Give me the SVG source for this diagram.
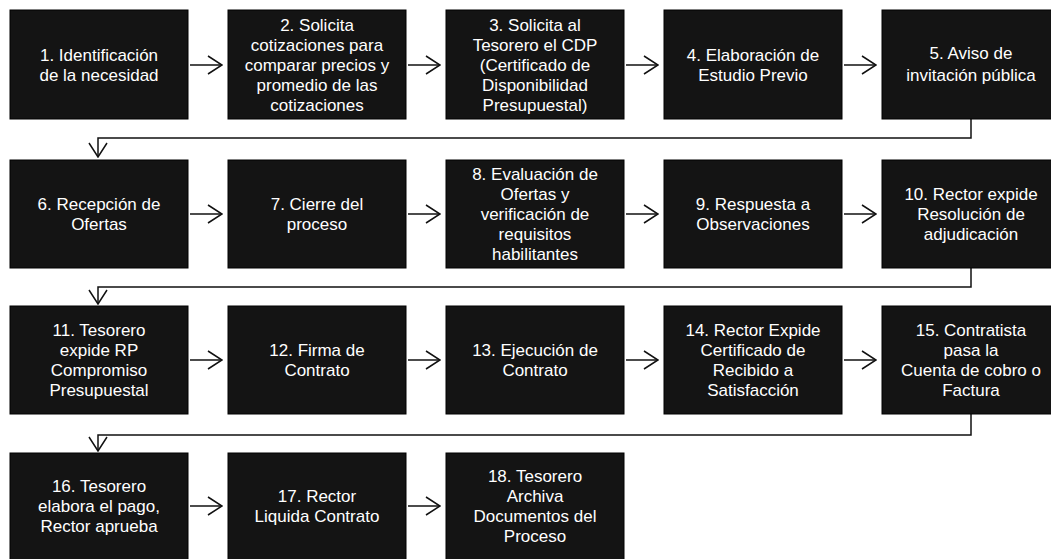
<svg xmlns="http://www.w3.org/2000/svg" width="1051" height="559" viewBox="0 0 1051 559">
<style>
.box{fill:#141414;stroke:#000;stroke-width:1}
.t{font-family:"Liberation Sans",Arial,sans-serif;font-size:17px;fill:#ffffff;text-anchor:middle;dominant-baseline:central}
.c{fill:none;stroke:#111;stroke-width:1.5}
</style>
<defs>
<marker id="ah" viewBox="0 0 16 20" refX="15" refY="10" markerWidth="16" markerHeight="20" markerUnits="userSpaceOnUse" orient="auto">
<path d="M1,1 L15,10 L1,19" fill="none" stroke="#111" stroke-width="1.5"/>
</marker>
</defs>
<rect width="1051" height="559" fill="#fff"/>
<g id="connectors">
<line class="c" x1="190" y1="65" x2="222" y2="65" marker-end="url(#ah)"/>
<line class="c" x1="408" y1="65" x2="440" y2="65" marker-end="url(#ah)"/>
<line class="c" x1="626" y1="65" x2="658" y2="65" marker-end="url(#ah)"/>
<line class="c" x1="844" y1="65" x2="876" y2="65" marker-end="url(#ah)"/>
<polyline class="c" points="971,119 971,138 98,138 98,157" marker-end="url(#ah)"/>
<line class="c" x1="190" y1="214" x2="222" y2="214" marker-end="url(#ah)"/>
<line class="c" x1="408" y1="214" x2="440" y2="214" marker-end="url(#ah)"/>
<line class="c" x1="626" y1="214" x2="658" y2="214" marker-end="url(#ah)"/>
<line class="c" x1="844" y1="214" x2="876" y2="214" marker-end="url(#ah)"/>
<polyline class="c" points="971,268 971,287 98,287 98,304" marker-end="url(#ah)"/>
<line class="c" x1="190" y1="360" x2="222" y2="360" marker-end="url(#ah)"/>
<line class="c" x1="408" y1="360" x2="440" y2="360" marker-end="url(#ah)"/>
<line class="c" x1="626" y1="360" x2="658" y2="360" marker-end="url(#ah)"/>
<line class="c" x1="844" y1="360" x2="876" y2="360" marker-end="url(#ah)"/>
<polyline class="c" points="971,414 971,435 98,435 98,451" marker-end="url(#ah)"/>
<line class="c" x1="190" y1="506" x2="222" y2="506" marker-end="url(#ah)"/>
<line class="c" x1="408" y1="506" x2="440" y2="506" marker-end="url(#ah)"/>
</g>
<g id="n1"><rect class="box" x="10" y="10" width="178" height="109"/><text class="t" x="99"><tspan x="99" y="55">1. Identificación</tspan><tspan x="99" y="75">de la necesidad</tspan></text></g>
<g id="n2"><rect class="box" x="228" y="10" width="178" height="109"/><text class="t"><tspan x="317" y="25">2. Solicita</tspan><tspan x="317" y="45">cotizaciones para</tspan><tspan x="317" y="65">comparar precios y</tspan><tspan x="317" y="85">promedio de las</tspan><tspan x="317" y="105">cotizaciones</tspan></text></g>
<g id="n3"><rect class="box" x="446" y="10" width="178" height="109"/><text class="t"><tspan x="535" y="25">3. Solicita al</tspan><tspan x="535" y="45">Tesorero el CDP</tspan><tspan x="535" y="65">(Certificado de</tspan><tspan x="535" y="85">Disponibilidad</tspan><tspan x="535" y="105">Presupuestal)</tspan></text></g>
<g id="n4"><rect class="box" x="664" y="10" width="178" height="109"/><text class="t"><tspan x="753" y="55">4. Elaboración de</tspan><tspan x="753" y="75">Estudio Previo</tspan></text></g>
<g id="n5"><rect class="box" x="882" y="10" width="178" height="109"/><text class="t"><tspan x="971" y="53">5. Aviso de</tspan><tspan x="971" y="75">invitación pública</tspan></text></g>
<g id="n6"><rect class="box" x="10" y="160" width="178" height="108"/><text class="t"><tspan x="99" y="204">6. Recepción de</tspan><tspan x="99" y="224">Ofertas</tspan></text></g>
<g id="n7"><rect class="box" x="228" y="160" width="178" height="108"/><text class="t"><tspan x="317" y="204">7. Cierre del</tspan><tspan x="317" y="224">proceso</tspan></text></g>
<g id="n8"><rect class="box" x="446" y="160" width="178" height="108"/><text class="t"><tspan x="535" y="174">8. Evaluación de</tspan><tspan x="535" y="194">Ofertas y</tspan><tspan x="535" y="214">verificación de</tspan><tspan x="535" y="234">requisitos</tspan><tspan x="535" y="254">habilitantes</tspan></text></g>
<g id="n9"><rect class="box" x="664" y="160" width="178" height="108"/><text class="t"><tspan x="753" y="204">9. Respuesta a</tspan><tspan x="753" y="224">Observaciones</tspan></text></g>
<g id="n10"><rect class="box" x="882" y="160" width="178" height="108"/><text class="t"><tspan x="971" y="194">10. Rector expide</tspan><tspan x="971" y="214">Resolución de</tspan><tspan x="971" y="234">adjudicación</tspan></text></g>
<g id="n11"><rect class="box" x="10" y="306" width="178" height="108"/><text class="t"><tspan x="99" y="330">11. Tesorero</tspan><tspan x="99" y="350">expide RP</tspan><tspan x="99" y="370">Compromiso</tspan><tspan x="99" y="390">Presupuestal</tspan></text></g>
<g id="n12"><rect class="box" x="228" y="306" width="178" height="108"/><text class="t"><tspan x="317" y="350">12. Firma de</tspan><tspan x="317" y="370">Contrato</tspan></text></g>
<g id="n13"><rect class="box" x="446" y="306" width="178" height="108"/><text class="t"><tspan x="535" y="350">13. Ejecución de</tspan><tspan x="535" y="370">Contrato</tspan></text></g>
<g id="n14"><rect class="box" x="664" y="306" width="178" height="108"/><text class="t"><tspan x="753" y="330">14. Rector Expide</tspan><tspan x="753" y="350">Certificado de</tspan><tspan x="753" y="370">Recibido a</tspan><tspan x="753" y="390">Satisfacción</tspan></text></g>
<g id="n15"><rect class="box" x="882" y="306" width="178" height="108"/><text class="t"><tspan x="971" y="330">15. Contratista</tspan><tspan x="971" y="350">pasa la</tspan><tspan x="971" y="370">Cuenta de cobro o</tspan><tspan x="971" y="390">Factura</tspan></text></g>
<g id="n16"><rect class="box" x="10" y="453" width="178" height="110"/><text class="t"><tspan x="99" y="486">16. Tesorero</tspan><tspan x="99" y="506">elabora el pago,</tspan><tspan x="99" y="526">Rector aprueba</tspan></text></g>
<g id="n17"><rect class="box" x="228" y="453" width="178" height="110"/><text class="t"><tspan x="317" y="496">17. Rector</tspan><tspan x="317" y="516">Liquida Contrato</tspan></text></g>
<g id="n18"><rect class="box" x="446" y="453" width="178" height="110"/><text class="t"><tspan x="535" y="476">18. Tesorero</tspan><tspan x="535" y="496">Archiva</tspan><tspan x="535" y="516">Documentos del</tspan><tspan x="535" y="536">Proceso</tspan></text></g>
</svg>
